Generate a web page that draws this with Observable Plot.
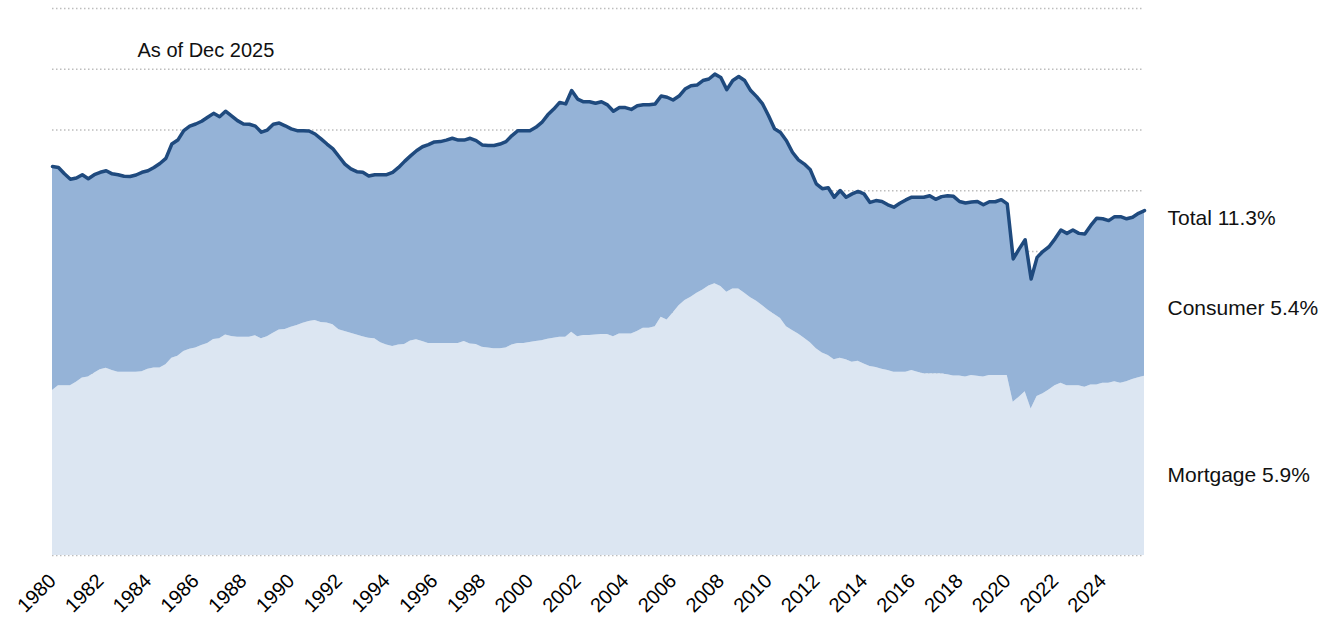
<!DOCTYPE html>
<html>
<head>
<meta charset="utf-8">
<script src="https://cdn.jsdelivr.net/npm/d3@7"></script>
<script src="https://cdn.jsdelivr.net/npm/@observablehq/plot@0.6"></script>
<style>
  html, body { margin: 0; padding: 0; background: #fff; }
  #chart svg { display: block; }
</style>
</head>
<body>
<div id="chart"></div>
<script>
// Household debt service ratio (% of disposable income), quarterly from 1980 Q1
const firstYear = 1980;
const total = [
  12.80, 12.77, 12.56, 12.38, 12.42, 12.53, 12.40, 12.53, 12.61, 12.66,
  12.56, 12.53, 12.48, 12.47, 12.52, 12.61, 12.66, 12.77, 12.90, 13.07,
  13.54, 13.67, 13.98, 14.13, 14.20, 14.29, 14.42, 14.55, 14.44, 14.62,
  14.47, 14.31, 14.20, 14.19, 14.13, 13.93, 14.00, 14.19, 14.23, 14.14,
  14.04, 13.98, 13.98, 13.97, 13.87, 13.71, 13.54, 13.38, 13.13, 12.88,
  12.72, 12.63, 12.61, 12.49, 12.53, 12.53, 12.53, 12.61, 12.77, 12.97,
  13.15, 13.32, 13.45, 13.52, 13.61, 13.62, 13.67, 13.73, 13.67, 13.67,
  13.73, 13.65, 13.51, 13.49, 13.49, 13.54, 13.62, 13.82, 13.98, 13.98,
  13.98, 14.09, 14.25, 14.50, 14.69, 14.91, 14.86, 15.30, 15.02, 14.93,
  14.93, 14.88, 14.93, 14.83, 14.62, 14.74, 14.74, 14.68, 14.80, 14.83,
  14.83, 14.86, 15.12, 15.08, 14.99, 15.12, 15.35, 15.46, 15.48, 15.63,
  15.68, 15.84, 15.73, 15.33, 15.63, 15.76, 15.63, 15.30, 15.10, 14.86,
  14.47, 14.04, 13.92, 13.65, 13.27, 13.02, 12.88, 12.69, 12.23, 12.07,
  12.10, 11.79, 12.01, 11.79, 11.90, 11.98, 11.90, 11.62, 11.68, 11.65,
  11.54, 11.46, 11.59, 11.70, 11.79, 11.79, 11.79, 11.84, 11.72, 11.81,
  11.84, 11.82, 11.65, 11.60, 11.63, 11.65, 11.54, 11.64, 11.64, 11.71,
  11.57, 9.76, 10.09, 10.39, 9.10, 9.81, 10.01, 10.16, 10.42, 10.71,
  10.60, 10.71, 10.60, 10.58, 10.86, 11.10, 11.08, 11.02, 11.15, 11.15,
  11.08, 11.13, 11.26, 11.35
];
const mortgage = [
  5.43, 5.59, 5.59, 5.59, 5.70, 5.84, 5.87, 6.00, 6.11, 6.16,
  6.09, 6.03, 6.03, 6.03, 6.03, 6.05, 6.13, 6.17, 6.17, 6.28,
  6.49, 6.56, 6.71, 6.79, 6.83, 6.91, 6.98, 7.11, 7.13, 7.26,
  7.21, 7.18, 7.18, 7.18, 7.23, 7.13, 7.20, 7.31, 7.42, 7.44,
  7.51, 7.57, 7.64, 7.70, 7.73, 7.67, 7.65, 7.59, 7.43, 7.37,
  7.31, 7.26, 7.20, 7.15, 7.13, 7.00, 6.93, 6.88, 6.93, 6.94,
  7.06, 7.10, 7.04, 6.98, 6.98, 6.98, 6.98, 6.98, 6.98, 7.04,
  6.96, 6.94, 6.85, 6.83, 6.80, 6.80, 6.83, 6.93, 6.98, 6.98,
  7.01, 7.04, 7.07, 7.12, 7.15, 7.18, 7.18, 7.35, 7.20, 7.24,
  7.24, 7.26, 7.27, 7.27, 7.20, 7.29, 7.29, 7.29, 7.37, 7.48,
  7.48, 7.53, 7.84, 7.75, 7.98, 8.22, 8.39, 8.50, 8.63, 8.74,
  8.87, 8.94, 8.85, 8.66, 8.77, 8.77, 8.63, 8.48, 8.37, 8.22,
  8.06, 7.93, 7.80, 7.53, 7.40, 7.29, 7.15, 7.00, 6.80, 6.66,
  6.58, 6.44, 6.49, 6.44, 6.36, 6.39, 6.30, 6.22, 6.19, 6.13,
  6.09, 6.03, 6.03, 6.03, 6.09, 6.03, 5.98, 5.98, 5.98, 5.98,
  5.95, 5.91, 5.91, 5.87, 5.92, 5.90, 5.87, 5.92, 5.92, 5.92,
  5.92, 5.04, 5.21, 5.39, 4.82, 5.23, 5.32, 5.45, 5.59, 5.67,
  5.59, 5.59, 5.59, 5.54, 5.61, 5.61, 5.67, 5.67, 5.72, 5.67,
  5.72, 5.79, 5.85, 5.90
];
const tickYears = [1980, 1982, 1984, 1986, 1988, 1990, 1992, 1994, 1996, 1998,
  2000, 2002, 2004, 2006, 2008, 2010, 2012, 2014, 2016, 2018, 2020, 2022, 2024];
const gridValues = [0, 2, 4, 6, 8, 10, 12, 14, 16, 18];
const noteText = "As of Dec 2025";
const endLabels = { total: "Total 11.3%", consumer: "Consumer 5.4%", mortgage: "Mortgage 5.9%" };

const rows = total.map((t, i) => ({ date: firstYear + i / 4, total: t, mortgage: mortgage[i] }));
const last = rows[rows.length - 1];

const FONT = "'Liberation Sans', Arial, sans-serif";

const chart = Plot.plot({
  width: 1335,
  height: 620,
  marginLeft: 52,
  marginRight: 191,
  marginTop: 8,
  marginBottom: 65,
  style: { fontFamily: FONT, background: "#fff", color: "#000" },
  x: { type: "linear", domain: [firstYear, last.date] },
  y: { domain: [0, 18] },
  marks: [
    Plot.ruleY(gridValues, { stroke: "#bdbdbd", strokeWidth: 1.5, strokeDasharray: "1.5,2.5" }),
    Plot.areaY(rows, { x: "date", y1: 0, y2: "mortgage", fill: "#dce6f2", curve: "linear" }),
    Plot.areaY(rows, { x: "date", y1: "mortgage", y2: "total", fill: "#95b3d7", curve: "linear" }),
    Plot.lineY(rows, { x: "date", y: "total", stroke: "#1f4a7e", strokeWidth: 3.5, strokeLinejoin: "round", strokeLinecap: "round", curve: "linear" }),
    Plot.axisX({
      ticks: tickYears, tickFormat: d => String(d), tickRotate: -45, label: null,
      tickSize: 0, tickPadding: 22, fontSize: 20, fill: "#000"
    }),
    Plot.axisY({ ticks: [], label: null, tickSize: 0 }),
    Plot.text([noteText], { frameAnchor: "top-left", dx: 85, dy: 34, text: d => d, fontSize: 20, textAnchor: "start", fill: "#111" }),
    Plot.text([last], { x: "date", y: "total", text: () => endLabels.total, dx: 23, dy: 8, textAnchor: "start", fontSize: 21, fill: "#111" }),
    Plot.text([last], { x: "date", y: d => (d.total + d.mortgage) / 2, text: () => endLabels.consumer, dx: 23, dy: 15, textAnchor: "start", fontSize: 21, fill: "#111" }),
    Plot.text([last], { x: "date", y: d => d.mortgage / 2, text: () => endLabels.mortgage, dx: 23, dy: 9, textAnchor: "start", fontSize: 21, fill: "#111" })
  ]
});
document.getElementById("chart").append(chart);
</script>
</body>
</html>
